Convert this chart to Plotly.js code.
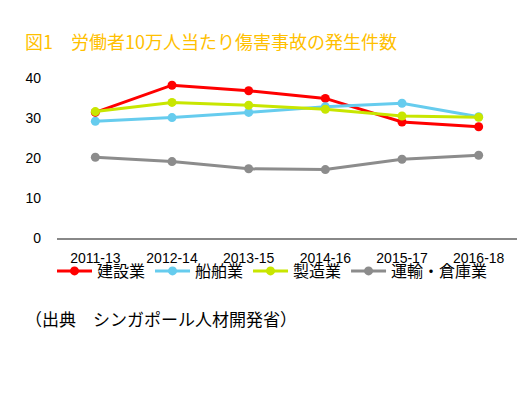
<!DOCTYPE html>
<html>
<head>
<meta charset="utf-8">
<script src="https://cdn.plot.ly/plotly-3.0.1.min.js"></script>
<style>html,body{margin:0;padding:0;background:#fff;}#chart{width:531px;height:397px;}</style>
</head>
<body>
<div id="chart"></div>
<script>
const categories = ["2011-13", "2012-14", "2013-15", "2014-16", "2015-17", "2016-18"];
const seriesNames = ["建設業", "船舶業", "製造業", "運輸・倉庫業"];
const construction = [31.4, 38.2, 36.8, 34.9, 29.0, 27.8];
const shipping = [29.2, 30.1, 31.4, 32.8, 33.7, 30.3];
const manufacturing = [31.6, 33.9, 33.2, 32.2, 30.5, 30.2];
const transport = [20.2, 19.1, 17.3, 17.1, 19.7, 20.7];
const yTicks = [0, 10, 20, 30, 40];
const colors = ["#ff0000", "#66ccee", "#c8e600", "#8c8c8c"];
const values = [construction, shipping, manufacturing, transport];

const cjk = '"Noto Sans CJK JP", "Noto Sans", sans-serif';
const latin = '"Liberation Sans", Arial, sans-serif';

const traces = values.map((v, i) => ({
  type: 'scatter', mode: 'lines+markers',
  x: categories, y: v, name: seriesNames[i],
  line: {color: colors[i], width: 3},
  marker: {color: colors[i], size: 9}
}));

const layout = {
  width: 531, height: 397,
  margin: {l: 57, r: 14, t: 78, b: 159},
  paper_bgcolor: '#fff', plot_bgcolor: '#fff',
  showlegend: true,
  title: {
    text: '図1　労働者10万人当たり傷害事故の発生件数',
    font: {family: cjk, size: 18, color: '#ffc000'},
    x: 25/531, xanchor: 'left', xref: 'container',
    y: 1 - 43/397, yanchor: 'middle', yref: 'container'
  },
  xaxis: {
    type: 'category', range: [-0.5, 5.5],
    showgrid: false, zeroline: false,
    showline: true, linecolor: '#888', linewidth: 2,
    ticks: '', ticklabelstandoff: 6,
    tickfont: {family: latin, size: 14, color: '#000'},
    fixedrange: true
  },
  yaxis: {
    range: [0, 40], tickvals: yTicks, ticktext: yTicks.map(String),
    showgrid: false, zeroline: false, showline: false,
    ticks: '', ticklabelstandoff: 15,
    tickfont: {family: latin, size: 14, color: '#000'},
    fixedrange: true
  },
  legend: {
    orientation: 'h', x: -5/460, xanchor: 'left', y: (238-271)/160, yanchor: 'middle',
    bgcolor: 'rgba(0,0,0,0)', itemwidth: 35,
    font: {family: cjk, size: 16, color: '#000'},
    itemclick: false, itemdoubleclick: false
  },
  annotations: [{
    text: '（出典　シンガポール人材開発省）',
    xref: 'paper', yref: 'paper', x: -34/460, y: (238-318)/160,
    xanchor: 'left', yanchor: 'middle', showarrow: false,
    font: {family: cjk, size: 17, color: '#000'}
  }]
};

Plotly.newPlot('chart', traces, layout, {displayModeBar: false, staticPlot: true});
</script>
</body>
</html>
